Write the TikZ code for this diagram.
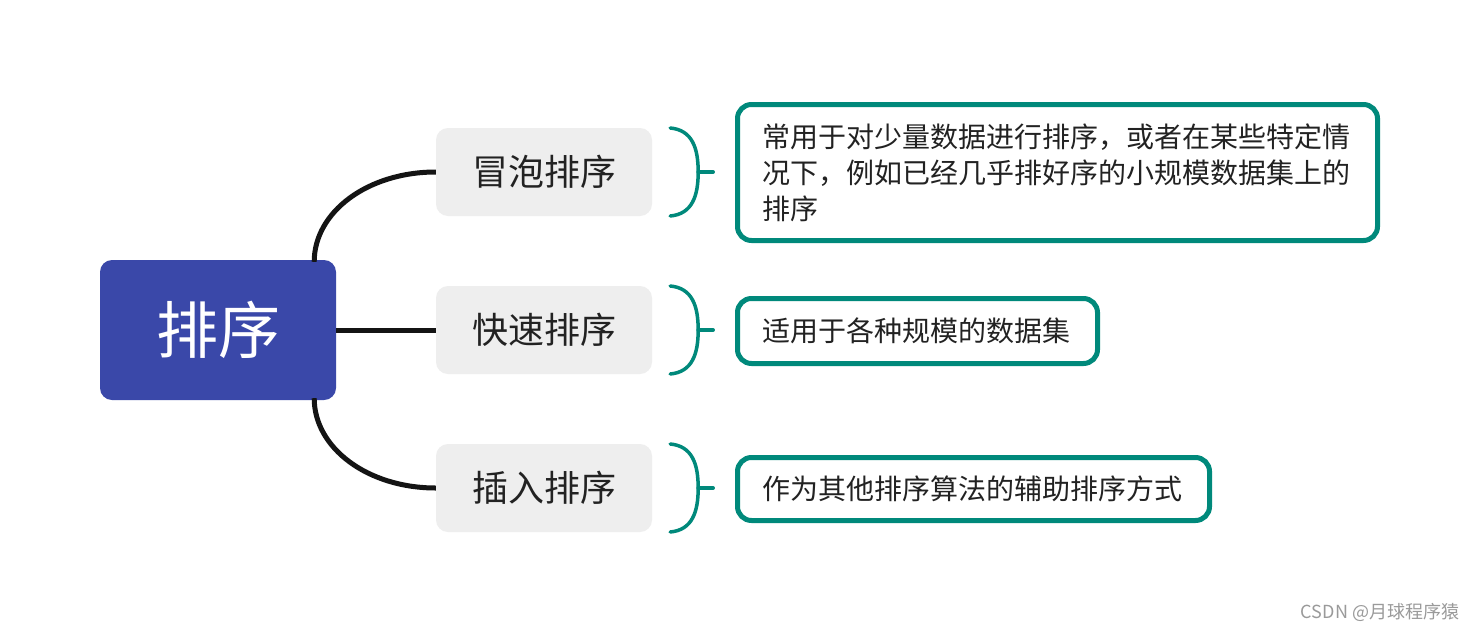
\documentclass[tikz,border=0pt]{standalone}
\usepackage{fontspec}
\setmainfont{Noto Sans CJK SC}
\usetikzlibrary{calc}
\definecolor{rootblue}{HTML}{3A48A9}
\definecolor{topicgray}{HTML}{EEEEEE}
\definecolor{noteteal}{HTML}{00897B}
\definecolor{textdark}{HTML}{222222}
\definecolor{linkdark}{HTML}{141414}
\definecolor{markgray}{HTML}{9A9A9A}

\begin{document}
\begin{tikzpicture}[x=1pt,y=-1pt,
    root/.style={fill=rootblue,rounded corners=12pt,text=white,minimum width=236pt,minimum height=140pt,font=\fontsize{62}{68}\selectfont},
    topic/.style={fill=topicgray,rounded corners=12pt,minimum width=216pt,minimum height=88pt,text=textdark,font=\fontsize{36}{40}\selectfont},
    note/.style={draw=noteteal,line width=5pt,rounded corners=14pt,fill=white,align=left,inner xsep=24.5pt,anchor=west,text=textdark,font=\fontsize{28}{36}\selectfont},
    link/.style={line width=5pt,draw=linkdark},
    brace/.style={line width=3.5pt,draw=noteteal,line cap=round}]
    \useasboundingbox[fill=white] (0,0) rectangle (1480,632);

    \node [root] (r) at (218,330) {排序};
    \node [topic] (c1) at (544,172) {冒泡排序};
    \node [topic] (c2) at (544,330) {快速排序};
    \node [topic] (c3) at (544,488) {插入排序};

    \node [note,text width=591pt,minimum height=136pt] (n1) at (735,172.5) {常用于对少量数据进行排序，或者在某些特定情\\况下，例如已经几乎排好序的小规模数据集上的\\排序};
    \node [note,text width=311pt,minimum height=65pt] (n2) at (735,331) {适用于各种规模的数据集};
    \node [note,text width=423pt,minimum height=63pt] (n3) at (735,489) {作为其他排序算法的辅助排序方式};

    \draw [link] ($(r.north east)+(-22,2)$) .. controls +(0,-50) and +(-68,0) .. (c1.west);
    \draw [link] (r.east) -- (c2.west);
    \draw [link] ($(r.south east)+(-22,-2)$) .. controls +(0,50) and +(-68,0) .. (c3.west);

    \foreach \c in {c1,c2,c3} {
        \draw [brace] ($(\c.east)+(18,-44)$) .. controls +(22,2) and +(0,-24) .. ($(\c.east)+(46,0)$)
            .. controls +(0,24) and +(22,-2) .. ($(\c.east)+(18,44)$);
        \draw [brace] ($(\c.east)+(46,0)$) -- ($(\c.east)+(61,0)$);
    }

    \node [text=markgray,font=\fontsize{18}{20}\selectfont] (wm) at (1380,612) {CSDN @月球程序猿};
\end{tikzpicture}
\end{document}
